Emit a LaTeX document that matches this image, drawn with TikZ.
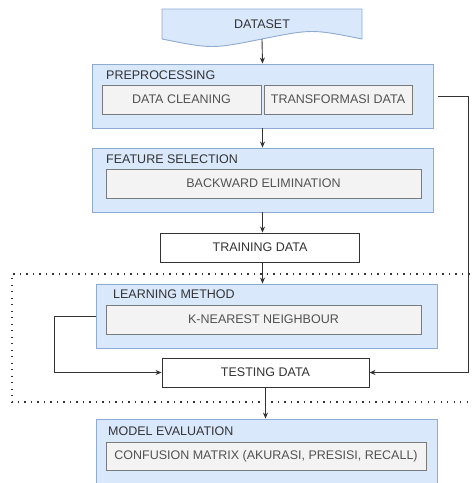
\documentclass[tikz,border=0pt]{standalone}
\usepackage{fontspec}
\setmainfont{Liberation Sans}
\usetikzlibrary{arrows.meta}
\definecolor{grpfill}{HTML}{DAE8FC}
\definecolor{grpline}{HTML}{8FAAD3}
\definecolor{boxfill}{HTML}{F3F3F3}
\definecolor{boxline}{HTML}{7A7A7A}
\definecolor{ink}{HTML}{333333}
\begin{document}
\begin{tikzpicture}[x=1pt,y=-1pt,
                    font=\fontsize{12.5}{14}\selectfont,
                    group node/.style={rectangle,fill=grpfill,draw=grpline,line width=0.9pt,inner sep=0pt},
                    inner node/.style={rectangle,fill=boxfill,draw=boxline,line width=0.9pt,text=ink!85,minimum height=29pt,inner sep=0pt},
                    plain node/.style={rectangle,fill=white,draw=ink,line width=0.9pt,text=ink,minimum height=29pt,inner sep=0pt},
                    title node/.style={anchor=west,text=ink,inner sep=0pt},
                    flow/.style={draw=ink,line width=0.9pt,-{Stealth[length=6pt,width=5pt]}}
                   ]
   \useasboundingbox (0,0) rectangle (472,483);
   % dataset (document shape)
   \draw[fill=grpfill,draw=grpline,line width=0.9pt] (162,39) -- (162,9) -- (362,9) -- (362,39)
        .. controls (312,29) .. (262,39) .. controls (212,49) .. (162,39) -- cycle;
   \node[text=ink,minimum width=200pt,minimum height=30pt,inner sep=0pt] (dataset) at (262,24) {DATASET};
   % preprocessing
   \node[group node,minimum width=341pt,minimum height=64pt] (prep) at (262.5,96) {};
   \node[title node] (preplabel) at (106,75) {PREPROCESSING};
   \node[inner node,minimum width=159pt] (clean) at (181.5,99.5) {DATA CLEANING};
   \node[inner node,minimum width=148pt] (trans) at (338,99.5) {TRANSFORMASI DATA};
   % feature selection
   \node[group node,minimum width=341pt,minimum height=64pt] (feat) at (262.5,180) {};
   \node[title node] (featlabel) at (106,159) {FEATURE SELECTION};
   \node[inner node,minimum width=315pt] (backward) at (263.5,183.5) {BACKWARD ELIMINATION};
   \node[plain node,minimum width=199pt] (train) at (260,247.5) {TRAINING DATA};
   % dotted frame
   \draw[ink,line width=1.1pt,dash pattern=on 1.2pt off 5.3pt] (476,274) -- (12,274) -- (12,402) -- (476,402);
   % learning method
   \node[group node,minimum width=341pt,minimum height=64pt] (learn) at (266.5,316) {};
   \node[title node] (learnlabel) at (113,294) {LEARNING METHOD};
   \node[inner node,minimum width=315pt] (knn) at (263.5,319.5) {K-NEAREST NEIGHBOUR};
   \node[plain node,minimum width=207pt] (test) at (265.5,372.5) {TESTING DATA};
   % model evaluation
   \node[group node,minimum width=341pt,minimum height=64pt] (eval) at (266.5,451) {};
   \node[title node] (evallabel) at (108,431) {MODEL EVALUATION};
   \node[inner node,minimum width=320pt,minimum height=28pt] (conf) at (266,456) {CONFUSION MATRIX (AKURASI, PRESISI, RECALL)};
   \path
     (dataset.south) edge[flow] (prep.north)
     (prep.south) edge[flow] (feat.north)
     (feat.south) edge[flow] (feat.south |- train.north)
     (train.south -| feat.south) edge[flow] (feat.south |- learn.north)
     (test.south) edge[flow] (test.south |- eval.north);
   \draw[flow] (learn.west) -- ++(-41,0) |- (test.west);
   \draw[flow] ([xshift=5pt]prep.east) -- ++(30,0) |- (test.east);  % back to testing
\end{tikzpicture}
\end{document}
